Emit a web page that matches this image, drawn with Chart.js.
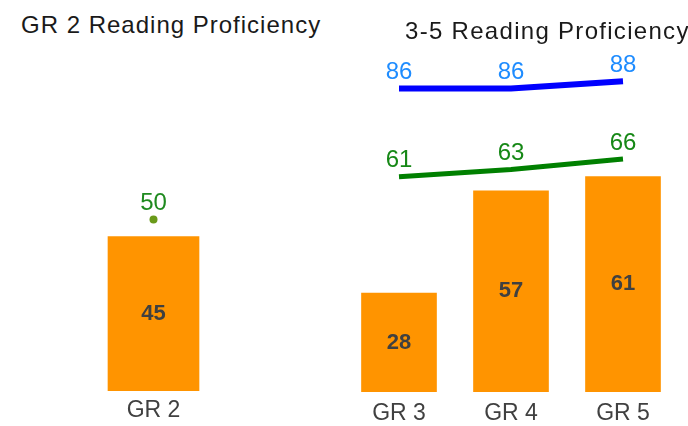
<!DOCTYPE html>
<html>
<head>
<meta charset="utf-8">
<script src="https://cdn.jsdelivr.net/npm/chart.js@4.4.0/dist/chart.umd.min.js"></script>
<style>
    body { margin: 0; width: 688px; height: 426px; position: relative; overflow: hidden; background: #fff; }
    canvas { position: absolute; top: 0; }
    #leftChart { left: 0; }
    #rightChart { left: 300px; }
    .title { position: absolute; font-family: "Liberation Sans", Arial, sans-serif; font-size: 24px; letter-spacing: 1px; color: #1a1a1a; white-space: nowrap; line-height: 1; }
    #leftTitle { left: 21px; top: 13px; }
    #rightTitle { left: 405px; top: 19px; letter-spacing: 1.3px; }
</style>
</head>
<body>
<div class="title" id="leftTitle">GR 2 Reading Proficiency</div>
<canvas id="leftChart" width="344" height="440"></canvas>
<canvas id="rightChart" width="388" height="440"></canvas>
<div class="title" id="rightTitle">3-5 Reading Proficiency</div>
<script>
// grade 2
const gr2Labels = ["GR 2"];
const gr2Bar = [45];
const gr2Dot = [50];

// grades 3-5
const gr35Labels = ["GR 3", "GR 4", "GR 5"];
const gr35Bars = [28, 57, 61];
const gr35Green = [61, 63, 66];
const gr35Blue = [86, 86, 88];

const ORANGE = "#ff9400";
const FONT = "'Liberation Sans', Arial, sans-serif";

// draws the numbers on bars and above points
const valueLabels = {
    id: "valueLabels",
    afterDatasetsDraw(chart) {
        const ctx = chart.ctx;
        chart.data.datasets.forEach((ds, i) => {
            const meta = chart.getDatasetMeta(i);
            meta.data.forEach((el, j) => {
                const v = ds.data[j];
                ctx.save();
                ctx.textAlign = "center";
                ctx.textBaseline = "middle";
                if (ds.type === "bar") {
                    ctx.font = "bold 22px " + FONT;
                    ctx.fillStyle = "#404040";
                    ctx.fillText(v, el.x, (el.y + el.base) / 2);
                } else {
                    ctx.font = "24px " + FONT;
                    ctx.fillStyle = ds.labelColor;
                    ctx.fillText(v, el.x, el.y - 16);
                }
                ctx.restore();
            });
        });
    }
};

function xAxis(pad) {
    return {
        grid: { display: false, drawTicks: false },
        border: { display: false },
        ticks: {
            color: "#404040",
            padding: pad,
            font: { family: FONT, size: 23, lineHeight: 1 }
        }
    };
}

new Chart(document.getElementById("leftChart"), {
    type: "bar",
    data: {
        labels: gr2Labels,
        datasets: [
            { type: "line", data: gr2Dot, showLine: false, pointRadius: 4, pointBackgroundColor: "#6a9a1a", pointBorderWidth: 0, labelColor: "#1f8a1f" },
            { type: "bar", data: gr2Bar, backgroundColor: ORANGE, barThickness: 91 }
        ]
    },
    options: {
        responsive: false,
        animation: false,
        layout: { padding: { left: 61, right: 98, top: 48, bottom: 9 } },
        plugins: { legend: { display: false }, tooltip: { enabled: false } },
        scales: {
            x: xAxis(8.5),
            y: { display: false, min: 0, max: 100 }
        }
    },
    plugins: [valueLabels]
});

new Chart(document.getElementById("rightChart"), {
    type: "bar",
    data: {
        labels: gr35Labels,
        datasets: [
            { type: "line", data: gr35Blue, borderColor: "#0000ff", borderWidth: 6, pointRadius: 0, labelColor: "#1e8cff" },
            { type: "line", data: gr35Green, borderColor: "#008000", borderWidth: 5, pointRadius: 0, labelColor: "#168816" },
            { type: "bar", data: gr35Bars, backgroundColor: ORANGE, barThickness: 75 }
        ]
    },
    options: {
        responsive: false,
        animation: false,
        layout: { padding: { left: 43, right: 9, top: 39, bottom: 5 } },
        plugins: { legend: { display: false }, tooltip: { enabled: false } },
        scales: {
            x: xAxis(10),
            y: { display: false, min: 0, max: 100 }
        }
    },
    plugins: [valueLabels]
});
</script>
</body>
</html>
